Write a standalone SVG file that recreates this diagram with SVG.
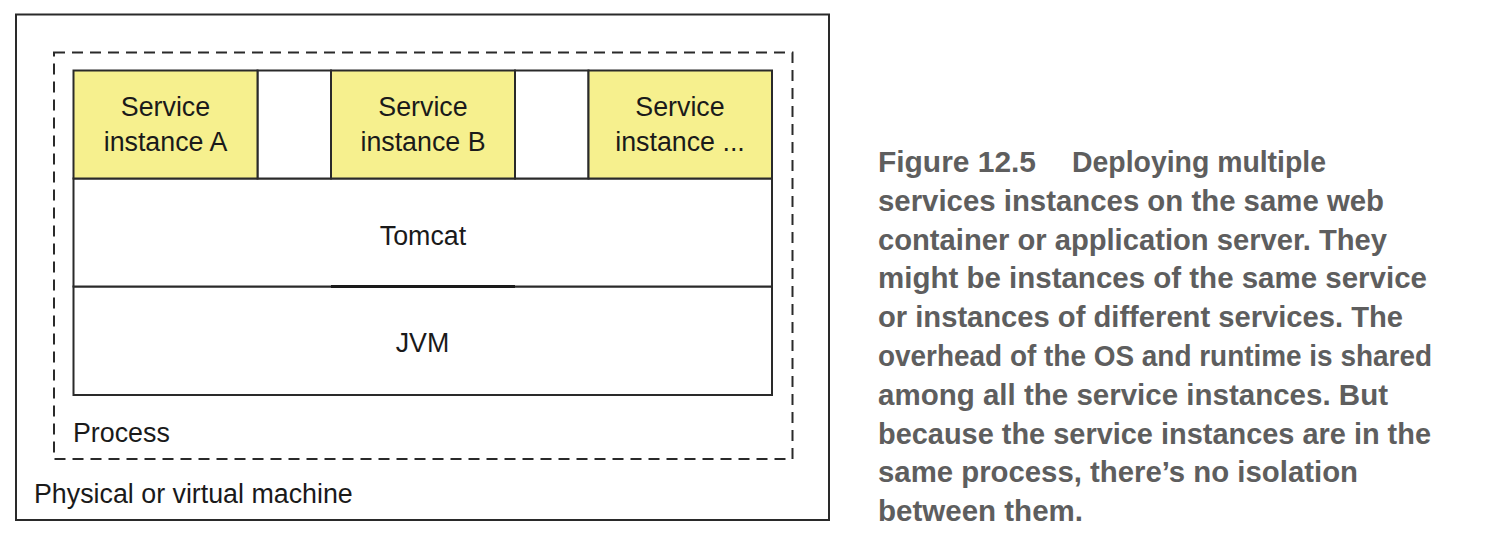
<svg xmlns="http://www.w3.org/2000/svg" width="1486" height="552" viewBox="0 0 1486 552">
<style>
.box{fill:#ffffff;stroke:#2a2a2a;stroke-width:2}
.svc{fill:#f6f08e;stroke:#2a2a2a;stroke-width:2}
.dash{fill:none;stroke:#2a2a2a;stroke-width:2;stroke-dasharray:11 7}
.lbl{font-family:"Liberation Sans",Arial,sans-serif;font-size:26.8px;fill:#1a1a1a}
.mid{text-anchor:middle}
.cap{font-family:"Liberation Sans",Arial,sans-serif;font-weight:bold;font-size:29px;fill:#5e5e5e}
</style>
<rect width="1486" height="552" fill="#ffffff"/>
<g id="machine">
<rect class="box" x="16" y="14.5" width="813" height="505.5"/>
<text class="lbl" x="34" y="503">Physical or virtual machine</text>
</g>
<g id="process">
<rect class="dash" x="54" y="52.5" width="738.5" height="406.5"/>
<text class="lbl" x="73" y="442">Process</text>
</g>
<g id="jvm">
<rect class="box" x="73.5" y="286.5" width="698.5" height="108.5"/>
<text class="lbl mid" x="422.5" y="352">JVM</text>
</g>
<g id="tomcat">
<rect class="box" x="73.5" y="178.5" width="698.5" height="108"/>
<line x1="331" y1="286.5" x2="515" y2="286.5" stroke="#1a1a1a" stroke-width="3"/>
<text class="lbl mid" x="423" y="245">Tomcat</text>
</g>
<g id="gap-1">
<rect class="box" x="257.5" y="70.5" width="73.5" height="108"/>
</g>
<g id="gap-2">
<rect class="box" x="515" y="70.5" width="73.5" height="108"/>
</g>
<g id="service-a">
<rect class="svc" x="73.5" y="70.5" width="184" height="108"/>
<text class="lbl mid" x="165.5" y="116">Service</text>
<text class="lbl mid" x="165.5" y="151">instance A</text>
</g>
<g id="service-b">
<rect class="svc" x="331" y="70.5" width="184" height="108"/>
<text class="lbl mid" x="423" y="116">Service</text>
<text class="lbl mid" x="423" y="151">instance B</text>
</g>
<g id="service-c">
<rect class="svc" x="588.5" y="70.5" width="183.5" height="108"/>
<text class="lbl mid" x="680" y="116">Service</text>
<text class="lbl mid" x="680" y="151">instance ...</text>
</g>
<g id="caption">
<text class="cap" x="878" y="172" textLength="158" lengthAdjust="spacingAndGlyphs">Figure 12.5</text>
<text class="cap" x="1072" y="172" textLength="254" lengthAdjust="spacingAndGlyphs">Deploying multiple</text>
<text class="cap" x="878" y="210.8" textLength="506" lengthAdjust="spacingAndGlyphs">services instances on the same web</text>
<text class="cap" x="878" y="249.6" textLength="509" lengthAdjust="spacingAndGlyphs">container or application server. They</text>
<text class="cap" x="878" y="288.4" textLength="549" lengthAdjust="spacingAndGlyphs">might be instances of the same service</text>
<text class="cap" x="878" y="327.2" textLength="525" lengthAdjust="spacingAndGlyphs">or instances of different services. The</text>
<text class="cap" x="878" y="366" textLength="554" lengthAdjust="spacingAndGlyphs">overhead of the OS and runtime is shared</text>
<text class="cap" x="878" y="404.8" textLength="510" lengthAdjust="spacingAndGlyphs">among all the service instances. But</text>
<text class="cap" x="878" y="443.6" textLength="553" lengthAdjust="spacingAndGlyphs">because the service instances are in the</text>
<text class="cap" x="878" y="482.4" textLength="480" lengthAdjust="spacingAndGlyphs">same process, there’s no isolation</text>
<text class="cap" x="878" y="521.2" textLength="205" lengthAdjust="spacingAndGlyphs">between them.</text>
</g>
</svg>
